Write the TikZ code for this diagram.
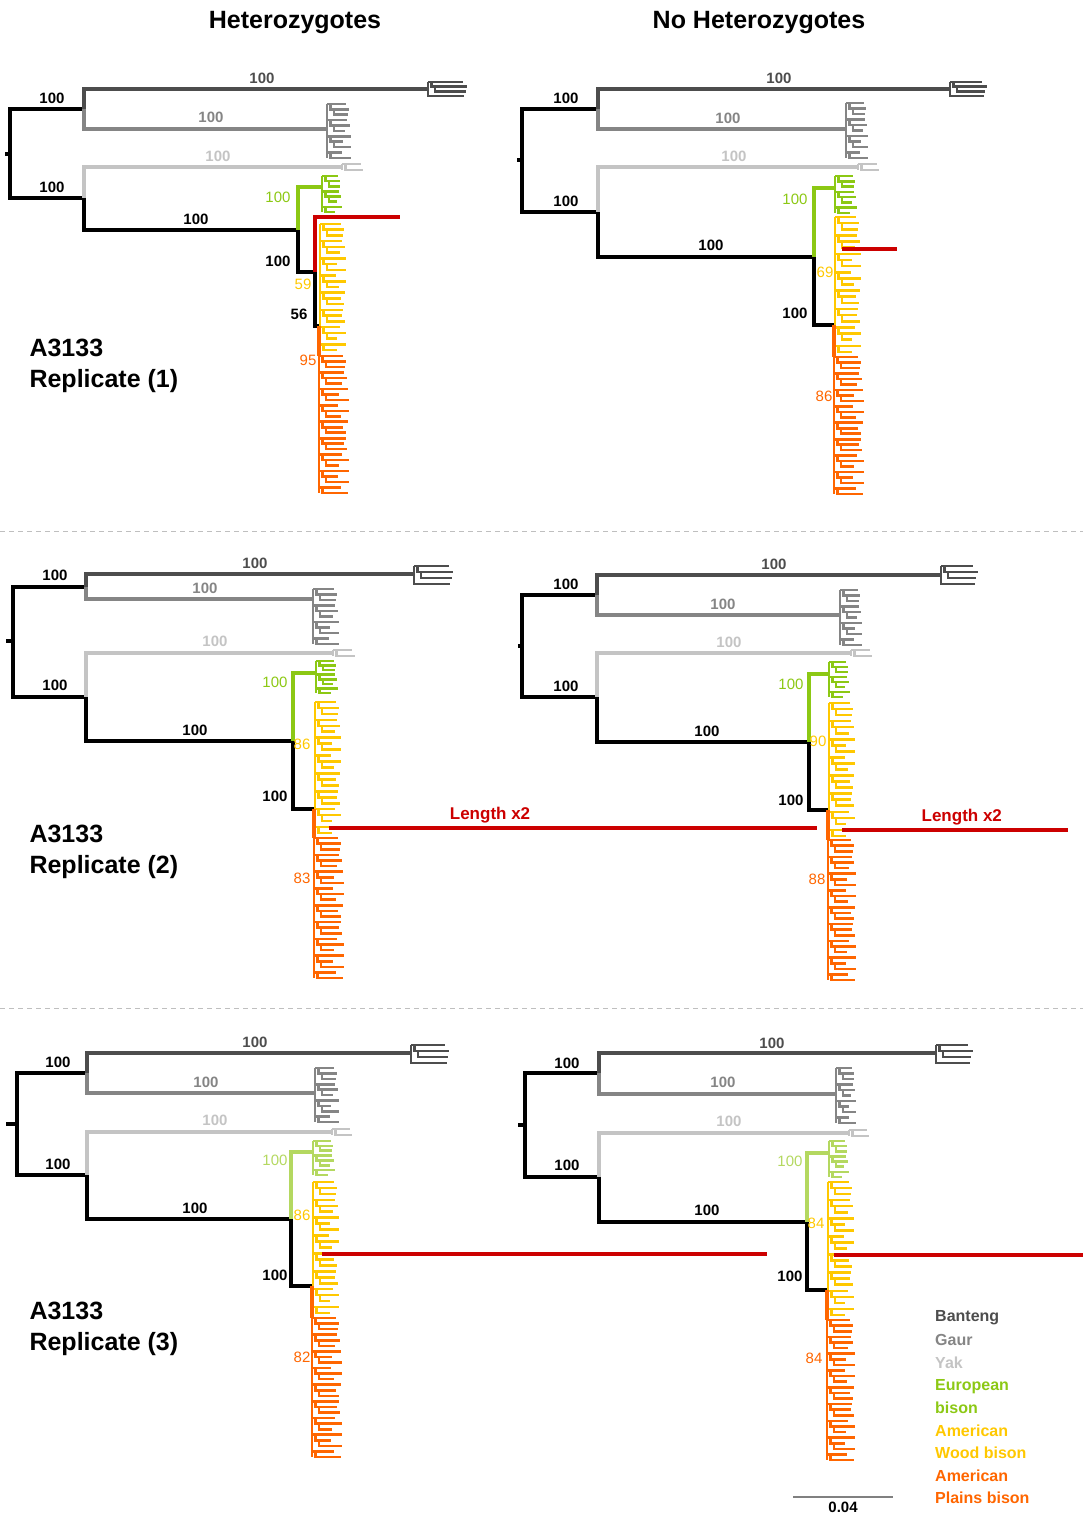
\documentclass[tikz,border=0pt]{standalone}
\usepackage{fontspec}
\setmainfont{Liberation Sans}
\definecolor{bantengc}{HTML}{4D4D4D}
\definecolor{gaurc}{HTML}{858585}
\definecolor{yakc}{HTML}{C4C4C4}
\definecolor{europec}{HTML}{8CC814}
\definecolor{europelt}{HTML}{B4D860}
\definecolor{woodc}{HTML}{FFC800}
\definecolor{plainsc}{HTML}{FF6600}
\definecolor{cutc}{HTML}{CC0000}
% a clump of tips: style, x, y top, y bottom, steps, tip length
\newcommand{\leafclade}[6]{%
  \draw[leaf,#1] (#2,#3) -- (#2,#4);
  \foreach \k in {0,...,#5}{%
    \pgfmathsetmacro{\yk}{#3+(#4-#3)*\k/#5}%
    \pgfmathsetmacro{\yp}{max(#3,#3+(#4-#3)*(\k-1)/#5)}%
    \pgfmathsetmacro{\xk}{#2+3.5*mod(\k,3)}%
    \pgfmathsetmacro{\xe}{#2+#6*(0.6+0.4*abs(sin(97*\k+31)))}%
    \draw[leaf,#1] (\xk,\yp) -- (\xk,\yk) -- (\xe,\yk);
  }%
}
\begin{document}
\begin{tikzpicture}[x=1pt,y=-1pt,
  branch/.style={line width=3.2pt},
  leaf/.style={line width=2.6pt},
  banteng/.style={draw=bantengc},
  gaur/.style={draw=gaurc},
  yak/.style={draw=yakc},
  europe/.style={draw=europec},
  europe3/.style={draw=europelt},
  wood/.style={draw=woodc},
  plains/.style={draw=plainsc},
  cut/.style={draw=cutc,line width=3.2pt},
  support/.style={font=\fontsize{15}{15}\selectfont\bfseries,inner sep=0pt},
  supportlt/.style={font=\fontsize{15}{15}\selectfont,inner sep=0pt},
  cutlabel/.style={font=\fontsize{17}{17}\selectfont\bfseries,inner sep=0pt,text=cutc},
  coltitle/.style={font=\fontsize{25}{25}\selectfont\bfseries},
  sample/.style={font=\fontsize{25}{31}\selectfont\bfseries,anchor=west,align=left},
  legend/.style={font=\fontsize{16}{16}\selectfont\bfseries,anchor=west,inner sep=0pt},
  divider/.style={draw=gray!50,line width=1pt,dash pattern=on 5pt off 4pt}]
\useasboundingbox (0,0) rectangle (1083,1517);

\node[coltitle] (hz) at (295,23) {Heterozygotes};
\node[coltitle] (nohz) at (759,23) {No Heterozygotes};

\coordinate (dv1a) at (0,531);
\coordinate (dv1b) at (1083,531);
\coordinate (dv2a) at (0,1008);
\coordinate (dv2b) at (1083,1008);
\draw[divider] (dv1a) -- (dv1b);
\draw[divider] (dv2a) -- (dv2b);

% ---- replicate 1, heterozygotes
\coordinate (r0) at (5,154);
\coordinate (r) at (10,154);
\coordinate (a) at (84,109);
\coordinate (b) at (84,198);
\coordinate (bt) at (428,89);
\coordinate (ga) at (327,129);
\coordinate (yk) at (342,167);
\coordinate (c) at (298,230);
\coordinate (eu) at (322,187);
\coordinate (e) at (315,272);
\coordinate (cx) at (400,217);
\coordinate (f) at (319,326);
\coordinate (pl) at (319,356);
\leafclade{banteng}{428}{82}{96}{3}{43}
\leafclade{gaur}{327}{104}{158}{10}{24}
\leafclade{yak}{342}{164}{170}{1}{23}
\leafclade{europe}{322}{176}{212}{7}{20}
\leafclade{plains}{319}{356}{493}{25}{30}
\leafclade{wood}{320}{224}{350}{22}{26}
\draw[branch] (r0) -- (r);
\draw[branch] (r) |- (a);
\draw[branch] (r) |- (b);
\draw[branch,banteng] (a) |- (bt);
\draw[branch,gaur] (a) |- (ga);
\draw[branch,yak] (b) |- (yk);
\draw[branch] (b) |- (c);
\draw[branch,europe] (c) |- (eu);
\draw[branch] (c) |- (e);
\draw[cut] (e) |- (cx);
\draw[branch] (e) |- (f);
\draw[branch,plains] (f) -- (pl);
\node[support] (s1a) at (52,98) {100};
\node[support] (s1b) at (52,187) {100};
\node[support,bantengc] (s1bt) at (262,78) {100};
\node[support,gaurc] (s1ga) at (211,117) {100};
\node[support,yakc] (s1yk) at (218,156) {100};
\node[support] (s1c) at (196,219) {100};
\node[supportlt,europec] (s1eu) at (278,197) {100};
\node[support] (s1e) at (278,261) {100};
\node[supportlt,woodc] (s1wd) at (303,284) {59};
\node[support] (s1f) at (299,314) {56};
\node[supportlt,plainsc] (s1pl) at (308,360) {95};
\node[sample] (smp1) at (26,366) {A3133\\Replicate (1)};

% ---- replicate 1, no heterozygotes
\coordinate (r0) at (517,160);
\coordinate (r) at (522,160);
\coordinate (a) at (598,109);
\coordinate (b) at (598,212);
\coordinate (bt) at (950,89);
\coordinate (ga) at (846,129);
\coordinate (yk) at (858,167);
\coordinate (c) at (814,257);
\coordinate (eu) at (835,188);
\coordinate (d) at (834,325);
\coordinate (pl) at (834,357);
\coordinate (cs) at (842,249);
\coordinate (cx) at (897,249);
\leafclade{banteng}{950}{82}{96}{3}{40}
\leafclade{gaur}{846}{103}{158}{10}{22}
\leafclade{yak}{858}{164}{170}{1}{23}
\leafclade{europe}{835}{176}{213}{7}{22}
\leafclade{plains}{834}{357}{494}{25}{30}
\leafclade{wood}{835}{217}{352}{22}{26}
\draw[branch] (r0) -- (r);
\draw[branch] (r) |- (a);
\draw[branch] (r) |- (b);
\draw[branch,banteng] (a) |- (bt);
\draw[branch,gaur] (a) |- (ga);
\draw[branch,yak] (b) |- (yk);
\draw[branch] (b) |- (c);
\draw[branch,europe] (c) |- (eu);
\draw[branch] (c) |- (d);
\draw[branch,plains] (d) -- (pl);
\draw[cut] (cs) -- (cx);
\node[support] (s2a) at (566,98) {100};
\node[support] (s2b) at (566,201) {100};
\node[support,bantengc] (s2bt) at (779,78) {100};
\node[support,gaurc] (s2ga) at (728,118) {100};
\node[support,yakc] (s2yk) at (734,156) {100};
\node[support] (s2c) at (711,245) {100};
\node[supportlt,europec] (s2eu) at (795,199) {100};
\node[supportlt,woodc] (s2wd) at (825,272) {69};
\node[support] (s2d) at (795,313) {100};
\node[supportlt,plainsc] (s2pl) at (824,396) {86};

% ---- replicate 2, heterozygotes
\coordinate (r0) at (6,641);
\coordinate (r) at (13,641);
\coordinate (a) at (86,587);
\coordinate (b) at (86,697);
\coordinate (bt) at (414,574);
\coordinate (ga) at (313,599);
\coordinate (yk) at (333,653);
\coordinate (c) at (293,741);
\coordinate (eu) at (316,673);
\coordinate (d) at (314,809);
\coordinate (pl) at (314,838);
\coordinate (cs) at (329,828);
\coordinate (cx) at (817,828);
\leafclade{banteng}{414}{566}{584}{3}{43}
\leafclade{gaur}{313}{589}{644}{10}{26}
\leafclade{yak}{333}{650}{656}{1}{24}
\leafclade{europe}{316}{661}{693}{7}{22}
\leafclade{plains}{314}{838}{978}{25}{30}
\leafclade{wood}{315}{702}{833}{22}{26}
\draw[branch] (r0) -- (r);
\draw[branch] (r) |- (a);
\draw[branch] (r) |- (b);
\draw[branch,banteng] (a) |- (bt);
\draw[branch,gaur] (a) |- (ga);
\draw[branch,yak] (b) |- (yk);
\draw[branch] (b) |- (c);
\draw[branch,europe] (c) |- (eu);
\draw[branch] (c) |- (d);
\draw[branch,plains] (d) -- (pl);
\draw[cut] (cs) -- (cx) node[pos=0.33,above=3pt,cutlabel] (len3) {Length x2};
\node[support] (s3a) at (55,575) {100};
\node[support] (s3b) at (55,685) {100};
\node[support,bantengc] (s3bt) at (255,563) {100};
\node[support,gaurc] (s3ga) at (205,588) {100};
\node[support,yakc] (s3yk) at (215,641) {100};
\node[support] (s3c) at (195,730) {100};
\node[supportlt,europec] (s3eu) at (275,682) {100};
\node[supportlt,woodc] (s3wd) at (302,744) {86};
\node[support] (s3d) at (275,796) {100};
\node[supportlt,plainsc] (s3pl) at (302,878) {83};
\node[sample] (smp2) at (26,852) {A3133\\Replicate (2)};

% ---- replicate 2, no heterozygotes
\coordinate (r0) at (518,646);
\coordinate (r) at (522,646);
\coordinate (a) at (597,595);
\coordinate (b) at (597,697);
\coordinate (bt) at (941,575);
\coordinate (ga) at (840,615);
\coordinate (yk) at (851,653);
\coordinate (c) at (809,742);
\coordinate (eu) at (829,674);
\coordinate (d) at (828,810);
\coordinate (pl) at (828,840);
\coordinate (cs) at (842,830);
\coordinate (cx) at (1068,830);
\leafclade{banteng}{941}{566}{584}{3}{40}
\leafclade{gaur}{840}{590}{645}{10}{22}
\leafclade{yak}{851}{650}{656}{1}{23}
\leafclade{europe}{829}{662}{697}{7}{21}
\leafclade{plains}{828}{840}{980}{25}{28}
\leafclade{wood}{829}{703}{836}{22}{26}
\draw[branch] (r0) -- (r);
\draw[branch] (r) |- (a);
\draw[branch] (r) |- (b);
\draw[branch,banteng] (a) |- (bt);
\draw[branch,gaur] (a) |- (ga);
\draw[branch,yak] (b) |- (yk);
\draw[branch] (b) |- (c);
\draw[branch,europe] (c) |- (eu);
\draw[branch] (c) |- (d);
\draw[branch,plains] (d) -- (pl);
\draw[cut] (cs) -- (cx) node[pos=0.53,above=3pt,cutlabel] (len4) {Length x2};
\node[support] (s4a) at (566,584) {100};
\node[support] (s4b) at (566,686) {100};
\node[support,bantengc] (s4bt) at (774,564) {100};
\node[support,gaurc] (s4ga) at (723,604) {100};
\node[support,yakc] (s4yk) at (729,642) {100};
\node[support] (s4c) at (707,731) {100};
\node[supportlt,europec] (s4eu) at (791,684) {100};
\node[supportlt,woodc] (s4wd) at (818,741) {90};
\node[support] (s4d) at (791,800) {100};
\node[supportlt,plainsc] (s4pl) at (817,879) {88};

% ---- replicate 3, heterozygotes
\coordinate (r0) at (6,1124);
\coordinate (r) at (17,1124);
\coordinate (a) at (87,1073);
\coordinate (b) at (87,1175);
\coordinate (bt) at (411,1053);
\coordinate (ga) at (315,1093);
\coordinate (yk) at (332,1132);
\coordinate (c) at (291,1219);
\coordinate (eu) at (313,1152);
\coordinate (d) at (312,1286);
\coordinate (pl) at (312,1318);
\coordinate (cs) at (322,1254);
\coordinate (cx) at (767,1254);
\leafclade{banteng}{411}{1045}{1063}{3}{42}
\leafclade{gaur}{315}{1068}{1122}{10}{24}
\leafclade{yak}{332}{1129}{1135}{1}{22}
\leafclade{europe3}{313}{1141}{1175}{7}{22}
\leafclade{plains}{312}{1318}{1457}{25}{30}
\leafclade{wood}{313}{1182}{1313}{22}{26}
\draw[branch] (r0) -- (r);
\draw[branch] (r) |- (a);
\draw[branch] (r) |- (b);
\draw[branch,banteng] (a) |- (bt);
\draw[branch,gaur] (a) |- (ga);
\draw[branch,yak] (b) |- (yk);
\draw[branch] (b) |- (c);
\draw[branch,europe3] (c) |- (eu);
\draw[branch] (c) |- (d);
\draw[branch,plains] (d) -- (pl);
\draw[cut] (cs) -- (cx);
\node[support] (s5a) at (58,1062) {100};
\node[support] (s5b) at (58,1164) {100};
\node[support,bantengc] (s5bt) at (255,1042) {100};
\node[support,gaurc] (s5ga) at (206,1082) {100};
\node[support,yakc] (s5yk) at (215,1120) {100};
\node[support] (s5c) at (195,1208) {100};
\node[supportlt,europelt] (s5eu) at (275,1160) {100};
\node[supportlt,woodc] (s5wd) at (302,1215) {86};
\node[support] (s5d) at (275,1275) {100};
\node[supportlt,plainsc] (s5pl) at (302,1357) {82};
\node[sample] (smp3) at (26,1329) {A3133\\Replicate (3)};

% ---- replicate 3, no heterozygotes
\coordinate (r0) at (518,1125);
\coordinate (r) at (525,1125);
\coordinate (a) at (599,1073);
\coordinate (b) at (599,1177);
\coordinate (bt) at (936,1053);
\coordinate (ga) at (836,1094);
\coordinate (yk) at (849,1133);
\coordinate (c) at (807,1222);
\coordinate (eu) at (829,1153);
\coordinate (d) at (827,1290);
\coordinate (pl) at (827,1320);
\coordinate (cs) at (834,1255);
\coordinate (cx) at (1083,1255);
\leafclade{banteng}{936}{1045}{1063}{3}{40}
\leafclade{gaur}{836}{1068}{1123}{10}{20}
\leafclade{yak}{849}{1130}{1136}{1}{22}
\leafclade{europe3}{829}{1141}{1177}{7}{20}
\leafclade{plains}{827}{1320}{1460}{25}{28}
\leafclade{wood}{828}{1182}{1315}{22}{26}
\draw[branch] (r0) -- (r);
\draw[branch] (r) |- (a);
\draw[branch] (r) |- (b);
\draw[branch,banteng] (a) |- (bt);
\draw[branch,gaur] (a) |- (ga);
\draw[branch,yak] (b) |- (yk);
\draw[branch] (b) |- (c);
\draw[branch,europe3] (c) |- (eu);
\draw[branch] (c) |- (d);
\draw[branch,plains] (d) -- (pl);
\draw[cut] (cs) -- (cx);
\node[support] (s6a) at (567,1063) {100};
\node[support] (s6b) at (567,1165) {100};
\node[support,bantengc] (s6bt) at (772,1043) {100};
\node[support,gaurc] (s6ga) at (723,1082) {100};
\node[support,yakc] (s6yk) at (729,1121) {100};
\node[support] (s6c) at (707,1210) {100};
\node[supportlt,europelt] (s6eu) at (790,1161) {100};
\node[supportlt,woodc] (s6wd) at (816,1223) {84};
\node[support] (s6d) at (790,1276) {100};
\node[supportlt,plainsc] (s6pl) at (814,1358) {84};

% legend and scale
\node[legend,bantengc] (lgbt) at (935,1318) {Banteng};
\node[legend,gaurc] (lgga) at (935,1340) {Gaur};
\node[legend,yakc] (lgyk) at (935,1363) {Yak};
\node[legend,europec] (lgeu1) at (935,1387) {European};
\node[legend,europec] (lgeu2) at (935,1408) {bison};
\node[legend,woodc] (lgwd1) at (935,1431) {American};
\node[legend,woodc] (lgwd2) at (935,1453) {Wood bison};
\node[legend,plainsc] (lgpl1) at (935,1476) {American};
\node[legend,plainsc] (lgpl2) at (935,1498) {Plains bison};
\coordinate (sb1) at (793,1497);
\coordinate (sb2) at (893,1497);
\draw[gray,line width=1.2pt] (sb1) -- (sb2) node[midway,below=4pt,support,black] (sbl) {0.04};
\end{tikzpicture}
\end{document}
